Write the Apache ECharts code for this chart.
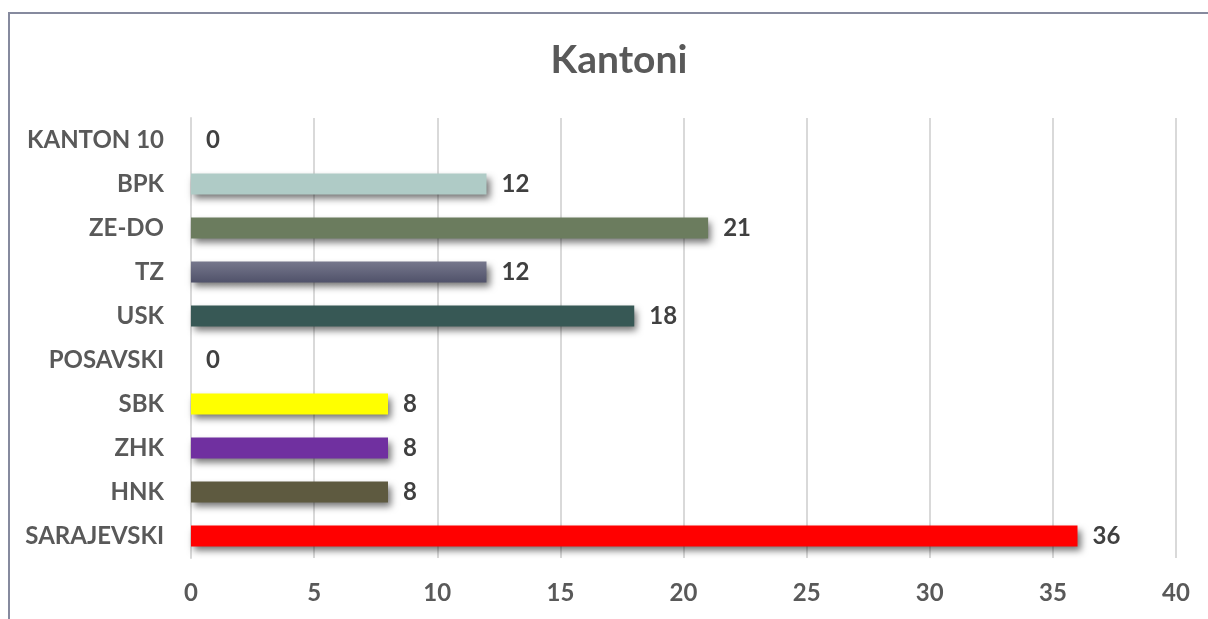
<!DOCTYPE html>
<html>
<head>
<meta charset="utf-8">
<script src="https://cdn.jsdelivr.net/npm/echarts@6/dist/echarts.min.js"></script>
<style>
html,body{margin:0;padding:0;background:#fff;}
#chart{width:1208px;height:619px;}
</style>
</head>
<body>
<div id="chart"></div>
<script>
const categories = ['SARAJEVSKI','HNK','ZHK','SBK','POSAVSKI','USK','TZ','ZE-DO','BPK','KANTON 10'];
const values = [36, 8, 8, 8, 0, 18, 12, 21, 12, 0];
const barColors = ['#ff0000','#5e5a40','#7030a0','#ffff00','#888888','#375855',
  ['#76778c','#50526a'],'#6b7c5e','#afcbc6','#888888'];
const xTicks = [0, 5, 10, 15, 20, 25, 30, 35, 40];

const FONT = 'Lato';
const chart = echarts.init(document.getElementById('chart'), null, {renderer:'canvas'});

function colorFor(c){
  if (Array.isArray(c)) {
    return new echarts.graphic.LinearGradient(0,0,0,1,[{offset:0,color:c[0]},{offset:1,color:c[1]}]);
  }
  return c;
}

chart.setOption({
  animation:false,
  backgroundColor:'#ffffff',
  title:{
    text:'Kantoni',
    left:614, top:36, textAlign:'center',
    textStyle:{fontFamily:FONT,fontWeight:'bold',fontSize:39,color:'#595959'}
  },
  graphic:[{
    type:'rect', silent:true,
    shape:{x:9,y:13,width:1300,height:800},
    style:{fill:'none',stroke:'#868a9e',lineWidth:2}
  }],
  grid:{left:191,right:32,top:118,bottom:61,containLabel:false},
  xAxis:{
    type:'value', min:xTicks[0], max:xTicks[xTicks.length-1], interval:5,
    axisLine:{show:false}, axisTick:{show:false},
    splitLine:{show:true,lineStyle:{color:'#d9d9d9',width:2}},
    axisLabel:{fontFamily:FONT,fontWeight:'bold',fontSize:24,color:'#595959',margin:23}
  },
  yAxis:{
    type:'category', data:categories,
    axisLine:{show:true,lineStyle:{color:'#d9d9d9',width:2}},
    axisTick:{show:false},
    axisLabel:{fontFamily:FONT,fontWeight:'bold',fontSize:24,color:'#595959',margin:27}
  },
  series:[{
    type:'bar',
    data:values.map((v,i)=>({value:v,itemStyle:{color:colorFor(barColors[i])}})),
    barWidth:21,
    itemStyle:{shadowColor:'rgba(0,0,0,0.55)',shadowBlur:7,shadowOffsetX:3,shadowOffsetY:4},
    label:{show:true,position:'right',distance:15,fontFamily:FONT,fontWeight:'bold',fontSize:24,color:'#404040'}
  }]
});
</script>
</body>
</html>
